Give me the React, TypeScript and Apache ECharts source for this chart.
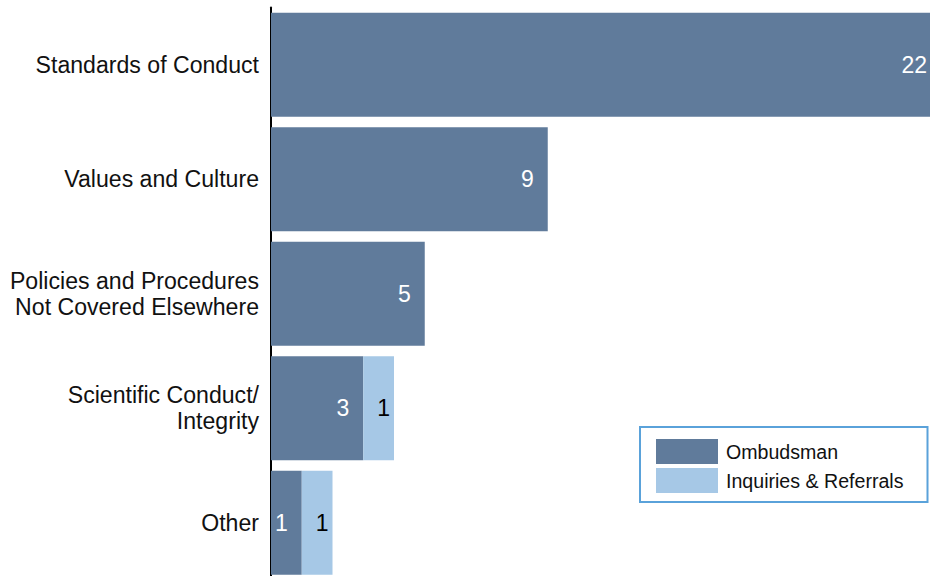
import React, { useEffect, useRef } from "react";
import * as echarts from "echarts";

const categories = [
  "Standards of Conduct",
  "Values and Culture",
  "Policies and Procedures\nNot Covered Elsewhere",
  "Scientific Conduct/\nIntegrity",
  "Other",
];
const ombudsman = [22, 9, 5, 3, 1];
const inquiries = [0, 0, 0, 1, 1];
const seriesNames = ["Ombudsman", "Inquiries & Referrals"];

const W = 930;
const H = 576;
const CW = 1000;
const CH = 620;
const FONT = "'Liberation Sans', Arial, Helvetica, sans-serif";
const DARK = "#607b9b";
const LIGHT = "#a6c8e6";
const GRID_LEFT = 271;
const X_MAX = 22;
const PX_PER_UNIT = 30.75;

export default function App() {
  const ref = useRef<HTMLDivElement>(null);

  useEffect(() => {
    if (!ref.current) return;
    const chart = echarts.init(ref.current, undefined, { renderer: "svg", width: CW, height: CH });

    const darkData = ombudsman.map((v) => {
      const end = GRID_LEFT + v * PX_PER_UNIT;
      if (end > W - 16) {
        return { value: v, label: { distance: end - (W - 3) } };
      }
      return v;
    });
    const lightData = inquiries.map((v) => (v > 0 ? v : null));

    chart.setOption({
      animation: false,
      backgroundColor: "#ffffff",
      textStyle: { fontFamily: FONT },
      grid: {
        left: GRID_LEFT,
        top: 7.5,
        width: X_MAX * PX_PER_UNIT,
        height: 572.5,
        containLabel: false,
      },
      xAxis: {
        type: "value",
        min: 0,
        max: X_MAX,
        show: false,
      },
      yAxis: {
        type: "category",
        data: categories,
        inverse: true,
        axisLine: { show: true, lineStyle: { color: "#000000", width: 2 } },
        axisTick: { show: false },
        axisLabel: {
          margin: 12,
          fontSize: 23.1,
          lineHeight: 26,
          color: "#111111",
          fontFamily: FONT,
          align: "right",
        },
        splitLine: { show: false },
      },
      legend: {
        show: true,
        orient: "vertical",
        left: 640,
        top: 427,
        data: seriesNames,
        icon: "rect",
        itemWidth: 62,
        itemHeight: 25,
        itemGap: 4,
        padding: [12, 24, 9, 16],
        borderColor: "#5aa2da",
        borderWidth: 2,
        backgroundColor: "#ffffff",
        textStyle: { fontSize: 19.6, color: "#111111", fontFamily: FONT, padding: [0, 0, 0, 3] },
      },
      series: [
        {
          name: seriesNames[0],
          type: "bar",
          stack: "total",
          data: darkData,
          barCategoryGap: "9.2%",
          itemStyle: { color: DARK },
          label: {
            show: true,
            position: "insideRight",
            distance: 14,
            color: "#ffffff",
            fontSize: 23,
            fontFamily: FONT,
          },
        },
        {
          name: seriesNames[1],
          type: "bar",
          stack: "total",
          data: lightData,
          barCategoryGap: "9.2%",
          itemStyle: { color: LIGHT },
          label: {
            show: true,
            position: "insideRight",
            distance: 4,
            color: "#000000",
            fontSize: 23,
            fontFamily: FONT,
          },
        },
      ],
    });

    return () => {
      chart.dispose();
    };
  }, []);

  return (
    <div
      style={{ position: "fixed", left: 0, top: 0, width: W, height: H, overflow: "hidden", background: "#fff" }}
    >
      <div ref={ref} style={{ width: CW, height: CH }} />
    </div>
  );
}
